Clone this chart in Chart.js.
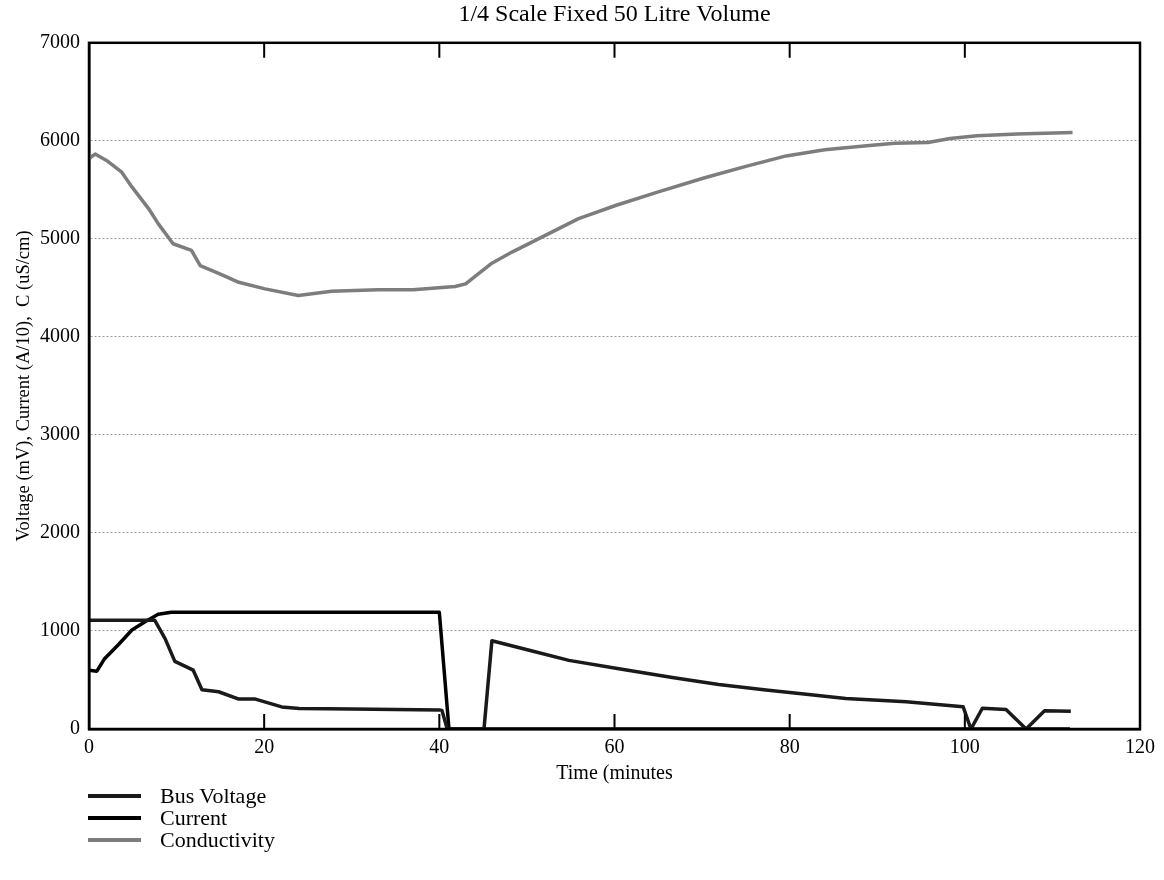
<!DOCTYPE html>
<html>
<head>
<meta charset="utf-8">
<script src="https://cdn.jsdelivr.net/npm/chart.js@4.4.1/dist/chart.umd.min.js"></script>
<style>
    body { margin: 0; background: #fff; }
    #wrap { position: relative; width: 1164px; height: 880px; }
    #leyenda {
        position: absolute; left: 88px; top: 785px;
        font-family: "Liberation Serif", "Times New Roman", serif;
        font-size: 22px; line-height: 22px; color: #000;
    }
    #leyenda .fila { display: flex; align-items: center; height: 22px; }
    #leyenda .linea { width: 53px; height: 4px; margin-right: 19px; }
</style>
</head>
<body>
<div id="wrap">
    <canvas id="grafico"></canvas>
    <div id="leyenda"></div>
</div>
<script>
// ===== Datos =====
const busTime  = [0, 7.5, 8.7, 9.8, 11.9, 12.9, 14.8, 17.1, 19, 22, 24, 30, 40, 40.3, 40.9, 45.1, 46, 50.6, 54.8, 60.5, 66.6, 71.9, 77.3, 81.1, 86.4, 93.3, 99.8, 100.7, 102, 104.7, 107, 109.1, 112.1];
const busValue = [1110, 1110, 920, 690, 600, 400, 380, 305, 305, 225, 208, 205, 195, 190, 0, 0, 900, 795, 700, 615, 525, 455, 398, 362, 312, 278, 228, 0, 212, 200, 0, 185, 180];

const currTime  = [0, 0.9, 1.8, 3.35, 4.9, 6.4, 7.9, 9.4, 12, 40, 41.1, 112];
const currValue = [600, 590, 720, 860, 1010, 1095, 1170, 1190, 1192, 1190, 0, 0];

const convTime  = [0, 0.7, 2, 3.7, 4.9, 6.8, 7.9, 9.6, 11.7, 12.7, 15, 17.1, 20.1, 23.9, 27.7, 33, 37, 41.8, 43, 46, 48.3, 52.1, 55.9, 60.2, 65, 70.3, 75, 79.6, 84, 88.8, 92, 95.8, 98.3, 101.4, 106, 112.3];
const convValue = [5820, 5865, 5800, 5684, 5530, 5309, 5155, 4950, 4882, 4728, 4640, 4557, 4490, 4422, 4466, 4480, 4480, 4514, 4541, 4752, 4865, 5036, 5206, 5343, 5480, 5623, 5740, 5846, 5910, 5949, 5975, 5983, 6024, 6051, 6070, 6086];

const xTicks = [0, 20, 40, 60, 80, 100, 120];
const yTicks = [0, 1000, 2000, 3000, 4000, 5000, 6000, 7000];

const series = [
    { label: 'Bus Voltage', t: busTime, v: busValue, color: '#1a1a1a' },
    { label: 'Current', t: currTime, v: currValue, color: '#000000' },
    { label: 'Conductivity', t: convTime, v: convValue, color: '#7d7d7d' }
];

const fuente = '"Liberation Serif", "Times New Roman", serif';
Chart.defaults.font.family = fuente;
Chart.defaults.color = '#000';

// marco completo + marcas interiores arriba y abajo
const marcoPlugin = {
    id: 'marco',
    afterDatasetsDraw(chart) {
        const { ctx, chartArea: a, scales: { x } } = chart;
        ctx.save();
        ctx.strokeStyle = '#000';
        ctx.lineWidth = 2.5;
        ctx.strokeRect(a.left, a.top, a.right - a.left, a.bottom - a.top);
        ctx.lineWidth = 2;
        xTicks.slice(1, -1).forEach(t => {
            const px = x.getPixelForValue(t);
            ctx.beginPath();
            ctx.moveTo(px, a.bottom); ctx.lineTo(px, a.bottom - 15);
            ctx.moveTo(px, a.top); ctx.lineTo(px, a.top + 15);
            ctx.stroke();
        });
        ctx.restore();
    }
};

new Chart(document.getElementById('grafico'), {
    type: 'line',
    data: {
        datasets: series.map(s => ({
            label: s.label,
            data: s.t.map((t, i) => ({ x: t, y: s.v[i] })),
            borderColor: s.color,
            borderWidth: 3.5,
            pointRadius: 0,
            tension: 0,
            borderJoinStyle: 'round'
        }))
    },
    options: {
        responsive: true,
        maintainAspectRatio: false,
        animation: false,
        layout: { padding: { left: 0, right: 24, top: 0, bottom: 93 } },
        plugins: {
            legend: { display: false },
            tooltip: { enabled: false },
            title: {
                display: true,
                text: '1/4 Scale Fixed 50 Litre Volume',
                fullSize: false,
                color: '#000',
                font: { size: 24, weight: 'normal' },
                padding: { top: 0, bottom: 14 }
            }
        },
        scales: {
            x: {
                type: 'linear',
                min: 0,
                max: 120,
                afterBuildTicks: scale => { scale.ticks = xTicks.map(v => ({ value: v })); },
                afterFit: scale => { scale.height = 58; },
                ticks: { font: { size: 20 }, padding: 7, maxRotation: 0, callback: v => String(v) },
                grid: { display: false, drawTicks: false },
                border: { display: true, color: '#000', width: 2.5 },
                title: {
                    display: true,
                    text: 'Time (minutes',
                    font: { size: 20 },
                    padding: { top: 0, bottom: 1 }
                }
            },
            y: {
                min: 0,
                max: 7000,
                afterBuildTicks: scale => { scale.ticks = yTicks.map(v => ({ value: v })); },
                afterFit: scale => { scale.width = 89; },
                ticks: { font: { size: 20 }, padding: 9, callback: v => String(v) },
                grid: {
                    drawTicks: false,
                    lineWidth: 1,
                    color: ctx => (ctx.tick && (ctx.tick.value === 0 || ctx.tick.value === 7000)) ? 'rgba(0,0,0,0)' : '#9a9a9a'
                },
                border: { display: true, color: '#000', width: 2.5, dash: [2, 2] },
                title: {
                    display: true,
                    text: 'Voltage (mV), Current (A/10),  C (uS/cm)',
                    font: { size: 18.5 },
                    padding: { top: 13, bottom: 0 }
                }
            }
        }
    },
    plugins: [marcoPlugin]
});

// leyenda HTML
const leyenda = document.getElementById('leyenda');
series.forEach(s => {
    const fila = document.createElement('div');
    fila.className = 'fila';
    const linea = document.createElement('span');
    linea.className = 'linea';
    linea.style.background = s.color;
    const texto = document.createElement('span');
    texto.textContent = s.label;
    fila.appendChild(linea);
    fila.appendChild(texto);
    leyenda.appendChild(fila);
});
</script>
</body>
</html>
